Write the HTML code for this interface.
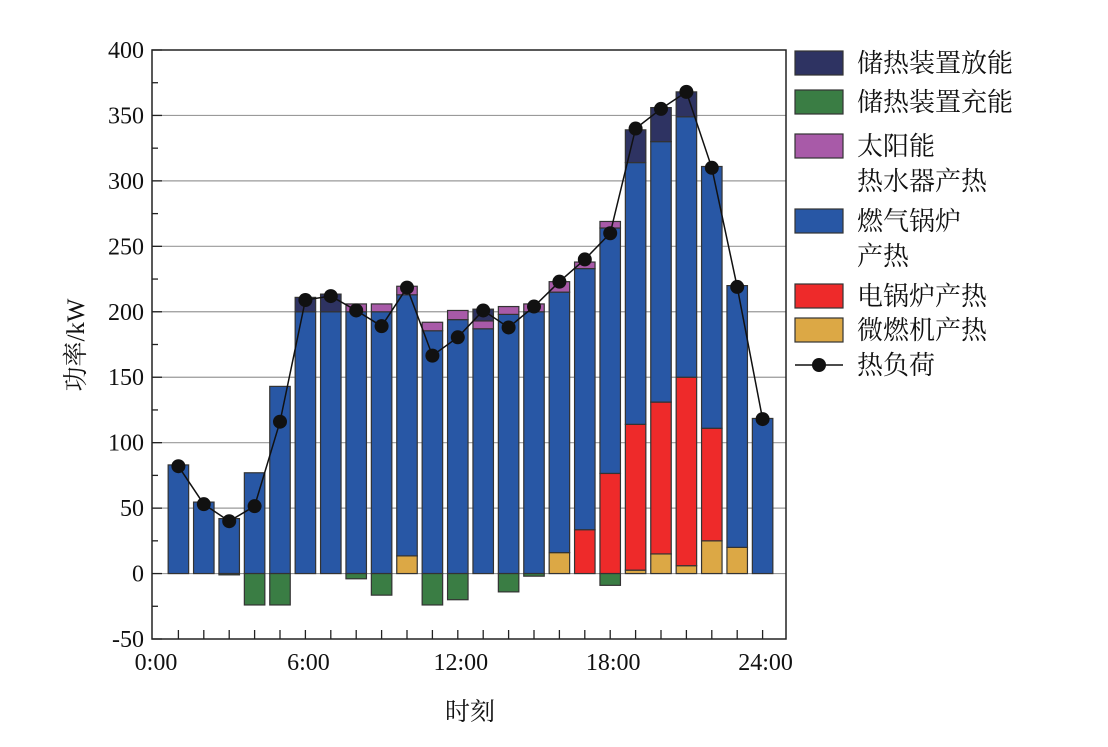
<!DOCTYPE html>
<html><head><meta charset="utf-8"><style>
html,body{margin:0;padding:0;background:#fff;}
svg text{font-family:"Liberation Serif","Noto Serif CJK SC",serif;fill:#111;}
</style></head><body>
<svg id="c" width="1108" height="742" viewBox="0 0 1108 742" xmlns="http://www.w3.org/2000/svg"></svg>
<script>
const hours=[1,2,3,4,5,6,7,8,9,10,11,12,13,14,15,16,17,18,19,20,21,22,23,24];
const micro=[0,0,0,0,0,0,0,0,0,13.5,0,0,0,0,0,16,0,0,2.6,15,6,25,20,0];
const electric=[0,0,0,0,0,0,0,0,0,0,0,0,0,0,0,0,33.5,76.5,111.4,116,144,86,0,0];
const gas=[83,54.6,42,77,143,200,200,200,200,199.5,185.5,194,187,198,200,199,199.5,187.5,200,199,199,200,200,118.5];
const solar=[0,0,0,0,0,0,0,6,6,6.5,6.5,7,6,6,6,8,5,5,0,0,0,0,0,0];
const discharge=[0,0,0,0,0,11,13.5,0,0,0,0,0,9,0,0,0,0,0,25,26,19,0,0,0];
const charge=[0,0,-1,-24,-24,0,0,-4,-16.5,0,-24,-20,0,-14,-2,0,0,-9,0,0,0,0,0,0];
const load=[82,53,40,51.5,116,209,212,201,189,218.5,166.5,180.5,201,188,204,223,240,260,340,355,368,310,219,118];
const yTicks=[-50,0,50,100,150,200,250,300,350,400];
const xTickLabels=["0:00","6:00","12:00","18:00","24:00"];
const xTickHours=[0,6,12,18,24];

const svg=document.getElementById('c');
const NS='http://www.w3.org/2000/svg';
const L=152,R=786,T=50,B=639,yMin=-50,yMax=400;
const xs=h=>153+h*25.4;
const ys=v=>B-(v-yMin)*(B-T)/(yMax-yMin);
function mk(tag,attrs,parent){const e=document.createElementNS(NS,tag);for(const k in attrs)e.setAttribute(k,attrs[k]);(parent||svg).appendChild(e);return e;}

yTicks.forEach(v=>{
 if(v>yMin&&v<yMax){const g=mk('line',{x1:L,x2:R,y1:ys(v),y2:ys(v),stroke:'#9a9a9a','stroke-width':1.2});
 
 }
});
const series=[
 {arr:micro,color:'#dca845',name:'micro-turbine'},
 {arr:electric,color:'#ee2a2a',name:'electric-boiler'},
 {arr:gas,color:'#2857a5',name:'gas-boiler'},
 {arr:solar,color:'#a85aa8',name:'solar-heater'},
 {arr:discharge,color:'#2e3362',name:'storage-discharge'}];
const bw=20.5;
hours.forEach((h,i)=>{
 let base=0;
 series.forEach(s=>{
  const v=s.arr[i]; if(v<=0)return;
  const r=mk('rect',{x:xs(h)-bw/2,y:ys(base+v),width:bw,height:ys(base)-ys(base+v),fill:s.color,stroke:'#333','stroke-width':1.2});
  
  
  base+=v;
 });
 if(charge[i]<0){
  const r=mk('rect',{x:xs(h)-bw/2,y:ys(0),width:bw,height:ys(charge[i])-ys(0),fill:'#3a7d44',stroke:'#333','stroke-width':1.2});
  
  
 }
});
const pl=mk('polyline',{points:hours.map((h,i)=>xs(h)+','+ys(load[i])).join(' '),fill:'none',stroke:'#111','stroke-width':1.5});


hours.forEach((h,i)=>{
 const c=mk('circle',{cx:xs(h),cy:ys(load[i]),r:7,fill:'#111'});
 
 
});
const fr=mk('rect',{x:L,y:T,width:R-L,height:B-T,fill:'none',stroke:'#222','stroke-width':1.5});


for(let v=yMin;v<=yMax;v+=25){
 const t=mk('line',{x1:L,x2:L+(v%50===0?10:6),y1:ys(v),y2:ys(v),stroke:'#222','stroke-width':1.3});
 
 
}
yTicks.forEach(v=>{
 const t=mk('text',{x:L-8,y:ys(v)+8,'text-anchor':'end','font-size':24});
 t.textContent=v;
 
 
});
for(let h=1;h<=24;h++){
 const t=mk('line',{x1:xs(h),x2:xs(h),y1:B,y2:B-9,stroke:'#222','stroke-width':1.3});
 
 
}
xTickHours.forEach((h,i)=>{
 const t=mk('text',{x:xs(h)+3,y:B+31,'text-anchor':'middle','font-size':24});
 t.textContent=xTickLabels[i];
 
 
});
const yt=mk('text',{x:0,y:0,'text-anchor':'middle','font-size':25,transform:'translate(84,345) rotate(-90)'});
yt.textContent='功率/kW';


const xt=mk('text',{x:470,y:720,'text-anchor':'middle','font-size':25});
xt.textContent='时刻';


const leg=[
 {c:'#2e3362',t:['储热装置放能'],y:63},
 {c:'#3a7d44',t:['储热装置充能'],y:102},
 {c:'#a85aa8',t:['太阳能','热水器产热'],y:146},
 {c:'#2857a5',t:['燃气锅炉','产热'],y:221},
 {c:'#ee2a2a',t:['电锅炉产热'],y:296},
 {c:'#dca845',t:['微燃机产热'],y:330}];
leg.forEach(e=>{
 const r=mk('rect',{x:795,y:e.y-12,width:48,height:24,fill:e.c,stroke:'#333','stroke-width':1.2});
 
 
 e.t.forEach((s,k)=>{
  const t=mk('text',{x:857,y:e.y+9+k*35,'font-size':26});
  t.textContent=s;
  
  
 });
});
const ll=mk('line',{x1:795,x2:843,y1:365,y2:365,stroke:'#111','stroke-width':1.5});


const lc=mk('circle',{cx:819,cy:365,r:7,fill:'#111'});


const lt=mk('text',{x:857,y:374,'font-size':26});
lt.textContent='热负荷';


</script>
</body></html>
